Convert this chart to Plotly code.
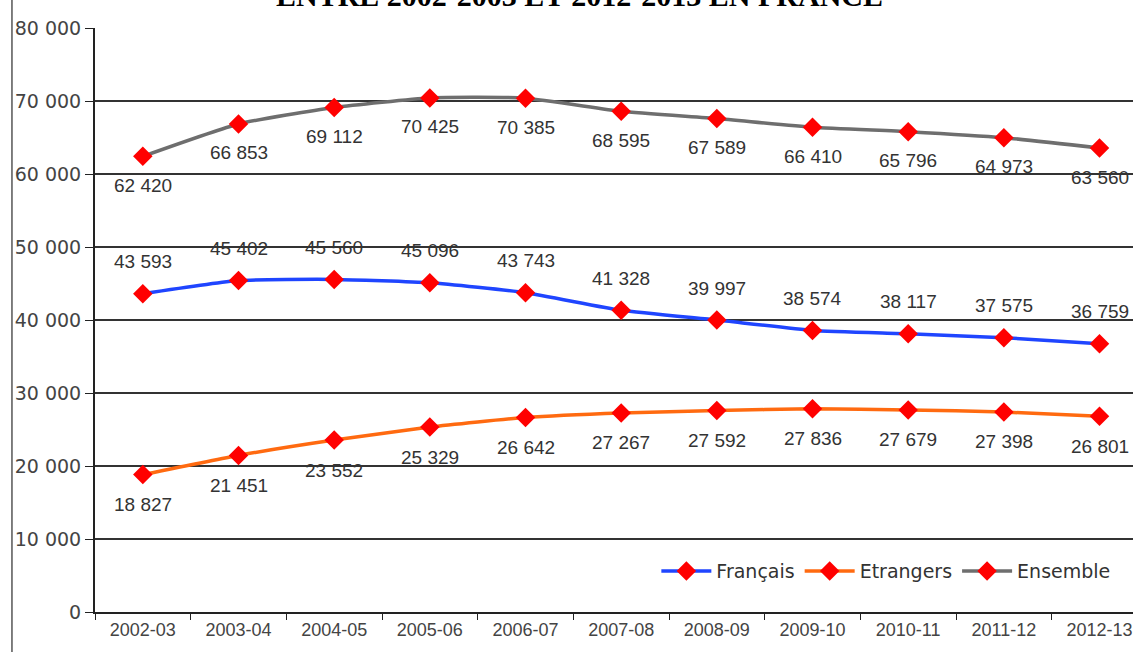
import plotly.graph_objects as go

# school years
annees = ["2002-03", "2003-04", "2004-05", "2005-06", "2006-07", "2007-08",
          "2008-09", "2009-10", "2010-11", "2011-12", "2012-13"]

francais = [43593, 45402, 45560, 45096, 43743, 41328, 39997, 38574, 38117, 37575, 36759]
etrangers = [18827, 21451, 23552, 25329, 26642, 27267, 27592, 27836, 27679, 27398, 26801]
ensemble = [62420, 66853, 69112, 70425, 70385, 68595, 67589, 66410, 65796, 64973, 63560]

y_ticks = [0, 10000, 20000, 30000, 40000, 50000, 60000, 70000, 80000]

fig = go.Figure()

series = [
    ("Français", francais, "#1f45ff", 32),
    ("Etrangers", etrangers, "#ff6a10", -30),
    ("Ensemble", ensemble, "#6e6e6e", -29),
]

for name, vals, col, shift in series:
    fig.add_trace(go.Scatter(
        x=annees, y=vals, name=name,
        mode="lines+markers",
        line=dict(color=col, width=3.5, shape="spline", smoothing=0.5),
        marker=dict(symbol="diamond", size=15, color="#ff0000"),
        hoverinfo="x+y",
    ))
    # data labels
    for a, v in zip(annees, vals):
        fig.add_annotation(
            x=a, y=v, text=f"{v:,}".replace(",", " "),
            showarrow=False, yshift=shift,
            font=dict(family="Liberation Sans, Arial", size=19, color="#333333"),
        )

# title, cut off at the top of the picture
fig.add_annotation(
    x=0.467, y=1.056, xref="paper", yref="paper", yanchor="middle",
    text="<b>ENTRE 2002-2003 ET 2012-2013 EN FRANCE</b>",
    showarrow=False,
    font=dict(family="Liberation Serif, Times New Roman", size=30, color="#000000"),
)

# thin frame line at the left of the picture
fig.add_shape(type="line", xref="paper", yref="paper",
              x0=-0.08, x1=-0.08, y0=-1, y1=2,
              line=dict(color="#555555", width=1.5))

fig.update_layout(
    width=1133, height=652,
    margin=dict(l=95, r=0, t=28, b=40),
    paper_bgcolor="white", plot_bgcolor="white",
    separators=". ",
    font=dict(family="Liberation Sans, Arial", color="#444444"),
    showlegend=True,
    legend=dict(
        orientation="h", x=0.983, xanchor="right", y=0.07, yanchor="middle",
        font=dict(family="DejaVu Sans", size=19, color="#333333"),
        bgcolor="rgba(255,255,255,0)",
        itemwidth=50,
    ),
)

fig.update_xaxes(
    type="category", range=[-0.5, 10.35], automargin=False,
    showgrid=False, showline=True, linecolor="#222222", linewidth=2,
    ticks="outside", tickson="boundaries", ticklen=6, tickcolor="#222222",
    tickfont=dict(size=18, color="#444444"),
)
fig.update_yaxes(
    range=[0, 80000], tickvals=y_ticks, tickformat=",d", automargin=False,
    showgrid=True, gridcolor="#333333", gridwidth=1.5,
    showline=True, linecolor="#222222", linewidth=2,
    ticks="outside", ticklen=8, tickcolor="#222222",
    tickfont=dict(family="DejaVu Sans", size=19, color="#444444"),
    zeroline=False,
)

# drop the default body margin so the figure fills the window exactly
fig.write_html("out.html", config={"displayModeBar": False},
               post_script="document.body.style.margin='0px';document.body.style.overflow='hidden';")
